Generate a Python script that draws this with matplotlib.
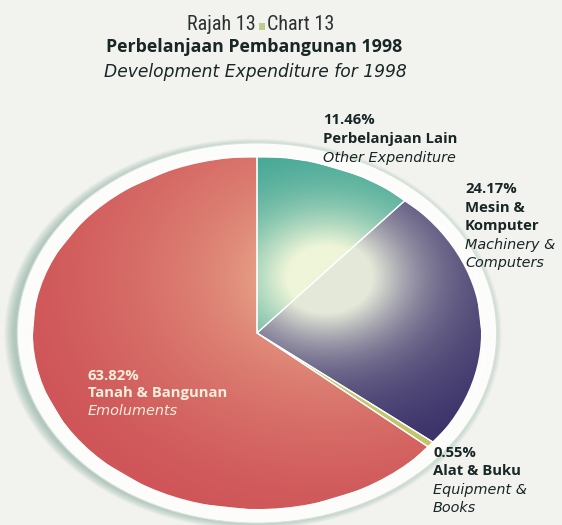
import matplotlib
matplotlib.use('Agg')
import matplotlib.pyplot as plt
import numpy as np
from matplotlib.patches import Ellipse, Rectangle
from matplotlib.colors import to_rgb

# slice data (clockwise from 12 o'clock)
shares = [11.46, 24.17, 0.55, 63.82]
pct_labels = ['11.46%', '24.17%', '0.55%', '63.82%']
malay_names = [['Perbelanjaan Lain'], ['Mesin &', 'Komputer'], ['Alat & Buku'], ['Tanah & Bangunan']]
english_names = [['Other Expenditure'], ['Machinery &', 'Computers'], ['Equipment &', 'Books'], ['Emoluments']]
base_colours = ['#34a08f', '#3a3169', '#c2c46a', '#cf5558']
light_colours = ['#eef5d8', '#e4e8d8', '#e9edc0', '#eeb896']

title_top = ['Rajah 13', 'Chart 13']
title_bold = 'Perbelanjaan Pembangunan 1998'
title_italic = 'Development Expenditure for 1998'

W, H = 562, 525
bg = '#f2f3ee'
font = ['Open Sans', 'DejaVu Sans']
italic_font = ['DejaVu Sans']

fig = plt.figure(figsize=(W / 100, H / 100), dpi=100)
fig.patch.set_facecolor(bg)

# pie axes: unit circle stretched into an ellipse
cx, cy, rx, ry = 257, 333, 224, 176
lim = 1.2
ax = fig.add_axes([(cx - lim * rx) / W, (H - cy - lim * ry) / H, 2 * lim * rx / W, 2 * lim * ry / H])
ax.set_facecolor('none')

# soft shadow + white rim
for k in range(10):
    r = 1.07 + 0.0045 * k
    ax.add_patch(Ellipse((-0.018, -0.006), 2 * r, 2 * r, facecolor='#5f9484', edgecolor='none',
                         alpha=0.05, zorder=1))
ax.add_patch(Ellipse((0, 0), 2.14, 2.16, facecolor='#fcfdfa', edgecolor='#d6e2da', lw=0.8, zorder=2))

wedges, _ = ax.pie(shares, startangle=90, counterclock=False, radius=1, center=(0, 0),
                   colors=base_colours, wedgeprops=dict(edgecolor='white', linewidth=0.9))

# radial highlight shading clipped to each slice
n = 400
gx, gy = np.meshgrid(np.linspace(-1, 1, n), np.linspace(1, -1, n))
hx, hy = 0.31, 0.32
d = np.hypot(gx - hx, gy - hy)
spot = np.exp(-(d / 0.34) ** 2)
# (spot weight, broad weight, broad reach) per slice
shade = [(0.75, 0.55, 1.05), (0.8, 0.6, 1.1), (0.5, 0.3, 1.0), (0.25, 0.85, 1.45)]
for wedge, base, light, (a, b, reach) in zip(wedges, base_colours, light_colours, shade):
    wedge.set_zorder(3)
    w = np.clip(a * spot + b * np.clip(1 - d / reach, 0, 1) ** 1.4, 0, 1)[..., None]
    img = np.array(to_rgb(base)) * (1 - w) + np.array(to_rgb(light)) * w
    im = ax.imshow(img, extent=(-1, 1, -1, 1), zorder=3.5, interpolation='bilinear', aspect='auto')
    im.set_clip_path(wedge)
    ax.add_patch(plt.Polygon(wedge.get_path().vertices, closed=True, facecolor='none',
                             edgecolor='white', lw=0.9, zorder=4))
ax.set_aspect('auto')
ax.set_xlim(-lim, lim)
ax.set_ylim(-lim, lim)
ax.axis('off')

# text layer in pixel coordinates
tax = fig.add_axes([0, 0, 1, 1])
tax.set_xlim(0, W)
tax.set_ylim(H, 0)
tax.axis('off')

ink = '#182626'
narrow = ['Roboto Condensed', 'Liberation Sans Narrow', 'Roboto', 'DejaVu Sans']
tax.text(256, 30, title_top[0], ha='right', va='baseline', fontsize=14.5, family=narrow, color='#2a3232')
tax.add_patch(Rectangle((258.5, 23), 6, 6.5, facecolor='#b9cd8e', edgecolor='none'))
tax.text(267, 30, title_top[1], ha='left', va='baseline', fontsize=14.5, family=narrow, color='#2a3232')
tax.text(254, 52, title_bold, ha='center', va='baseline', fontsize=12.8, fontweight='bold',
         family=font, color=ink)
tax.text(255, 77, title_italic, ha='center', va='baseline', fontsize=12.3, style='italic',
         family=italic_font, color=ink)

label_pos = [(323, 124, 19), (465, 193, 18.5), (433, 457, 18.3), (88, 380, 17.5)]
label_ink = [ink, ink, ink, '#f8efdc']
for i in range(len(shares)):
    x, y, step = label_pos[i]
    lines = [(pct_labels[i], 'bold', 'normal', font)]
    lines += [(s, 'bold', 'normal', font) for s in malay_names[i]]
    lines += [(s, 'normal', 'italic', italic_font) for s in english_names[i]]
    for j, (s, wt, st, fam) in enumerate(lines):
        tax.text(x, y + j * step, s, ha='left', va='baseline', fontsize=10.4 if st == 'italic' else 10.7,
                 fontweight=wt, style=st, family=fam, color=label_ink[i])

fig.savefig('out.png', dpi=100, facecolor=bg)
